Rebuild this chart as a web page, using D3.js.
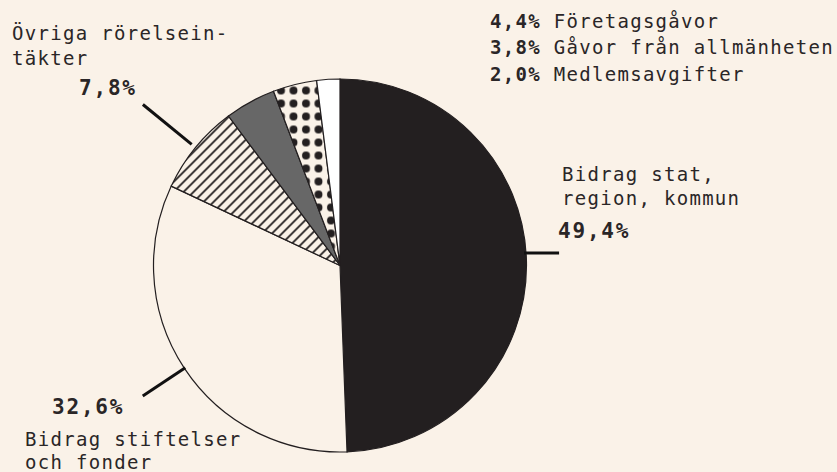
<!DOCTYPE html>
<html>
<head>
<meta charset="utf-8">
<script src="https://cdn.jsdelivr.net/npm/d3@7"></script>
<style>
body { margin: 0; background: #faf2e8; }
svg text { font-family: "DejaVu Sans Mono", monospace; fill: #2a2627; }
.lbl { font-size: 19px; letter-spacing: 1.3px; }
.pct { font-size: 21px; font-weight: bold; letter-spacing: 1.8px; }
.pct-s { font-size: 19px; font-weight: bold; letter-spacing: 1.3px; }
</style>
</head>
<body>
<svg id="chart" width="837" height="472"></svg>
<script>
// andelar, medurs från kl 12
const categories = ["Bidrag stat, region, kommun", "Bidrag stiftelser och fonder", "Övriga rörelseintäkter",
  "Företagsgåvor", "Gåvor från allmänheten", "Medlemsavgifter"];
const values = [49.4, 32.6, 7.8, 4.4, 3.8, 2.0];
const fills = ["#231f20", "#faf2e8", "url(#hatch)", "#676767", "url(#dots)", "#ffffff"];

const fmt = v => v.toFixed(1).replace(".", ",") + "%";

const svg = d3.select("#chart");
const cx = 340, cy = 265.5, r = 186.5;

const defs = svg.append("defs");
const hatch = defs.append("pattern").attr("id", "hatch")
  .attr("patternUnits", "userSpaceOnUse").attr("width", 10).attr("height", 10);
hatch.append("rect").attr("width", 10).attr("height", 10).attr("fill", "#faf2e8");
hatch.append("path").attr("d", "M0,10 L10,0 M-2,2 L2,-2 M8,12 L12,8")
  .attr("stroke", "#231f20").attr("stroke-width", 1.8);

const dots = defs.append("pattern").attr("id", "dots")
  .attr("patternUnits", "userSpaceOnUse").attr("width", 12.5).attr("height", 13)
  .attr("x", cx - 5).attr("y", 1);
dots.append("rect").attr("width", 12.5).attr("height", 13).attr("fill", "#faf2e8");
dots.append("circle").attr("cx", 6).attr("cy", 6).attr("r", 4).attr("fill", "#231f20");

const pie = d3.pie().sort(null).value(d => d)(values);
const arc = d3.arc().innerRadius(0).outerRadius(r);

const g = svg.append("g").attr("transform", `translate(${cx},${cy})`);
g.selectAll("path.slice").data(pie).join("path")
  .attr("class", "slice")
  .attr("d", arc)
  .attr("fill", (d, i) => fills[i])
  .attr("stroke", "#231f20")
  .attr("stroke-width", 1.2);

// ledarlinjer längs mittvinkeln
const mid = d => (d.startAngle + d.endAngle) / 2;
const leaders = [
  { i: 1, r0: r - 1, r1: r + 50 },
  { i: 2, r0: r + 5, r1: r + 68 }
];
leaders.forEach(l => {
  const a = mid(pie[l.i]);
  g.append("line")
    .attr("x1", Math.sin(a) * l.r0).attr("y1", -Math.cos(a) * l.r0)
    .attr("x2", Math.sin(a) * l.r1).attr("y2", -Math.cos(a) * l.r1)
    .attr("stroke", "#111").attr("stroke-width", 3);
});
// stat: vågrät linje
{
  const y = -12.5;
  const x0 = Math.sqrt(r * r - y * y) - 2;
  g.append("line").attr("x1", x0).attr("y1", y).attr("x2", x0 + 35).attr("y2", y)
    .attr("stroke", "#111").attr("stroke-width", 3);
}

// etiketter
const big = [
  { i: 0, lines: ["Bidrag stat,", "region, kommun"], lx: 562, ly: [181, 205], px: 558, py: 238 },
  { i: 1, lines: ["Bidrag stiftelser", "och fonder"], lx: 25, ly: [446, 469], px: 52, py: 414 },
  { i: 2, lines: ["Övriga rörelsein-", "täkter"], lx: 12, ly: [40, 65], px: 79, py: 95 }
];
big.forEach(b => {
  b.lines.forEach((t, k) => svg.append("text").attr("class", "lbl")
    .attr("x", b.lx).attr("y", b.ly[k]).text(t));
  svg.append("text").attr("class", "pct").attr("x", b.px).attr("y", b.py).text(fmt(values[b.i]));
});

[3, 4, 5].forEach((i, k) => {
  const t = svg.append("text").attr("x", 490).attr("y", 28 + k * 26.3);
  t.append("tspan").attr("class", "pct-s").text(fmt(values[i]));
  t.append("tspan").attr("class", "lbl").text(" " + categories[i]);
});
</script>
</body>
</html>
